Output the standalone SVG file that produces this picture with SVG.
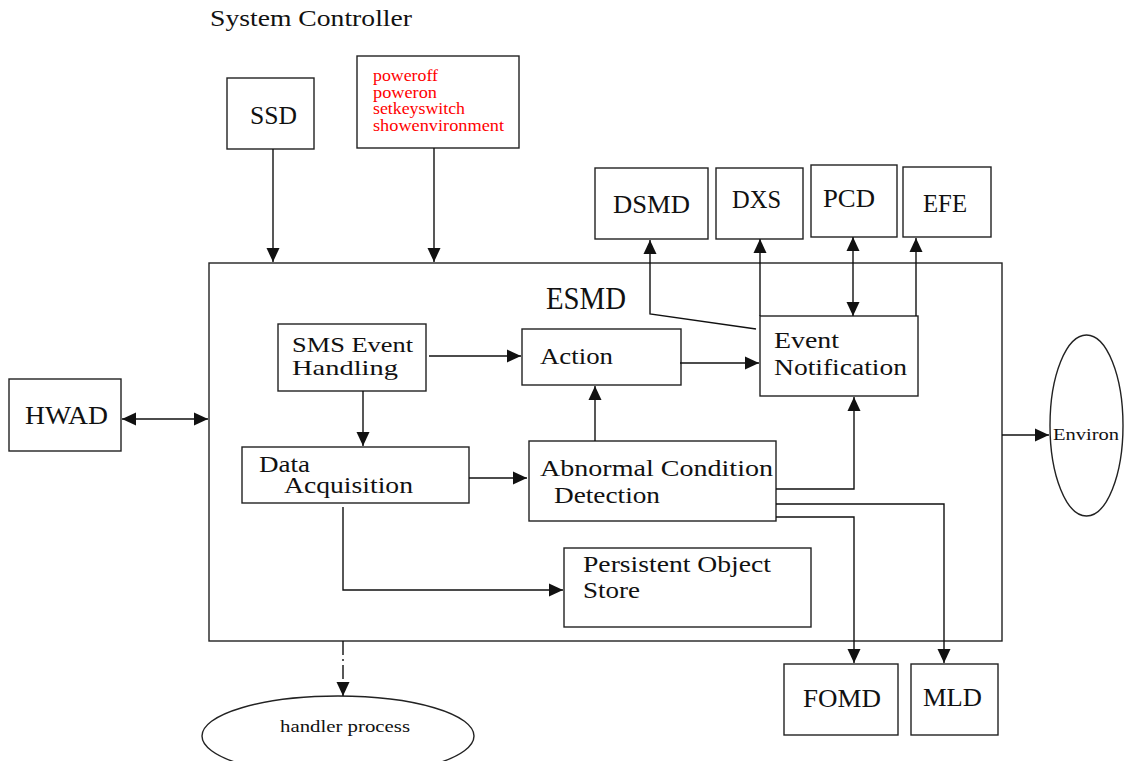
<svg xmlns="http://www.w3.org/2000/svg" width="1127" height="761" viewBox="0 0 1127 761">
<defs>
<marker id="arr" markerUnits="userSpaceOnUse" markerWidth="14" markerHeight="14" viewBox="0 0 14 14" refX="14" refY="7" orient="auto-start-reverse">
<path d="M0,0.5 L14,7 L0,13.5 z" fill="#111"/>
</marker>
<style>
.box{fill:#fff;stroke:#222;stroke-width:1.4}
.t{font-family:"Liberation Serif","Times New Roman",serif;fill:#111;font-size:24px}
.big{font-size:25px}
.red{fill:#ff0000;font-size:16px}
.sm{font-size:17px}
.c{fill:none;stroke:#111;stroke-width:1.4}
</style>
</defs>
<rect width="1127" height="761" fill="#fff"/>
<text class="t" x="210" y="26" style="font-size:23px" textLength="202" lengthAdjust="spacingAndGlyphs">System Controller</text>

<g id="ssd"><rect class="box" x="227" y="78" width="87" height="71"/><text class="t big" x="250" y="124" textLength="47" lengthAdjust="spacingAndGlyphs">SSD</text></g>
<g id="commands"><rect class="box" x="357" y="56" width="162" height="92"/>
<text class="t red" x="373" y="81" textLength="65" lengthAdjust="spacingAndGlyphs">poweroff</text>
<text class="t red" x="373" y="98" textLength="64" lengthAdjust="spacingAndGlyphs">poweron</text>
<text class="t red" x="373" y="114" textLength="92" lengthAdjust="spacingAndGlyphs">setkeyswitch</text>
<text class="t red" x="373" y="131" textLength="131" lengthAdjust="spacingAndGlyphs">showenvironment</text></g>

<g id="esmd"><rect class="box" x="209" y="263" width="793" height="378"/><text class="t" x="546" y="309" style="font-size:31px" textLength="80" lengthAdjust="spacingAndGlyphs">ESMD</text></g>

<g id="dsmd"><rect class="box" x="595" y="168" width="113" height="71"/><text class="t big" x="613" y="213" textLength="77" lengthAdjust="spacingAndGlyphs">DSMD</text></g>
<g id="dxs"><rect class="box" x="716" y="168" width="87" height="71"/><text class="t big" x="732" y="208" textLength="49" lengthAdjust="spacingAndGlyphs">DXS</text></g>
<g id="pcd"><rect class="box" x="811" y="165" width="86" height="72"/><text class="t big" x="823" y="207" textLength="52" lengthAdjust="spacingAndGlyphs">PCD</text></g>
<g id="efe"><rect class="box" x="903" y="167" width="88" height="70"/><text class="t big" x="923" y="212" textLength="44" lengthAdjust="spacingAndGlyphs">EFE</text></g>

<g id="event-notification"><rect class="box" x="760" y="316" width="158" height="80"/>
<text class="t" x="774" y="348" textLength="65" lengthAdjust="spacingAndGlyphs">Event</text>
<text class="t" x="774" y="375" textLength="133" lengthAdjust="spacingAndGlyphs">Notification</text></g>

<g id="sms-event-handling"><rect class="box" x="278" y="324" width="148" height="67"/>
<text class="t" x="292" y="352" style="font-size:22px" textLength="121" lengthAdjust="spacingAndGlyphs">SMS Event</text>
<text class="t" x="292" y="375" style="font-size:22px" textLength="106" lengthAdjust="spacingAndGlyphs">Handling</text></g>

<g id="action"><rect class="box" x="522" y="329" width="159" height="56"/>
<text class="t" x="540" y="364" textLength="73" lengthAdjust="spacingAndGlyphs">Action</text></g>

<g id="data-acquisition"><rect class="box" x="242" y="447" width="227" height="56"/>
<text class="t" x="259" y="472" textLength="51" lengthAdjust="spacingAndGlyphs">Data</text>
<text class="t" x="284" y="493" textLength="129" lengthAdjust="spacingAndGlyphs">Acquisition</text></g>

<g id="abnormal-condition-detection"><rect class="box" x="529" y="441" width="247" height="80"/>
<text class="t" x="540" y="476" textLength="233" lengthAdjust="spacingAndGlyphs">Abnormal Condition</text>
<text class="t" x="554" y="503" textLength="106" lengthAdjust="spacingAndGlyphs">Detection</text></g>

<g id="persistent-object-store"><rect class="box" x="564" y="548" width="247" height="79"/>
<text class="t" x="583" y="572" textLength="188" lengthAdjust="spacingAndGlyphs">Persistent Object</text>
<text class="t" x="583" y="598" textLength="57" lengthAdjust="spacingAndGlyphs">Store</text></g>

<g id="hwad"><rect class="box" x="9" y="379" width="112" height="72"/><text class="t big" x="25" y="424" textLength="83" lengthAdjust="spacingAndGlyphs">HWAD</text></g>

<g id="environ"><ellipse class="box" cx="1086.5" cy="425.5" rx="36.5" ry="90.5"/><text class="t sm" x="1053" y="440" textLength="66" lengthAdjust="spacingAndGlyphs">Environ</text></g>

<g id="fomd"><rect class="box" x="784" y="664" width="114" height="71"/><text class="t big" x="803" y="707" textLength="78" lengthAdjust="spacingAndGlyphs">FOMD</text></g>
<g id="mld"><rect class="box" x="911" y="664" width="87" height="71"/><text class="t big" x="923" y="706" textLength="59" lengthAdjust="spacingAndGlyphs">MLD</text></g>

<g id="handler-process"><ellipse class="box" cx="338" cy="736" rx="136" ry="40"/><text class="t sm" x="280" y="732" textLength="130" lengthAdjust="spacingAndGlyphs">handler process</text></g>

<g id="connectors">
<path class="c" d="M273,149 V262" marker-end="url(#arr)"/>
<path class="c" d="M434,148 V262" marker-end="url(#arr)"/>
<path class="c" d="M122,419 H208" marker-start="url(#arr)" marker-end="url(#arr)"/>
<path class="c" d="M756,329 L650,314 V240" marker-end="url(#arr)"/>
<path class="c" d="M760,316 V239" marker-end="url(#arr)"/>
<path class="c" d="M853,237 V316" marker-start="url(#arr)" marker-end="url(#arr)"/>
<path class="c" d="M916,316 V238" marker-end="url(#arr)"/>
<path class="c" d="M429,356 H521" marker-end="url(#arr)"/>
<path class="c" d="M680,363 H759" marker-end="url(#arr)"/>
<path class="c" d="M363,391 V446" marker-end="url(#arr)"/>
<path class="c" d="M469,478 H527" marker-end="url(#arr)"/>
<path class="c" d="M595,441 V386" marker-end="url(#arr)"/>
<path class="c" d="M776,489 H854 V397" marker-end="url(#arr)"/>
<path class="c" d="M776,504 H944 V663" marker-end="url(#arr)"/>
<path class="c" d="M776,517 H854 V663" marker-end="url(#arr)"/>
<path class="c" d="M343,507 V590 H563" marker-end="url(#arr)"/>
<path class="c" d="M1002,435 H1049" marker-end="url(#arr)"/>
<path class="c" d="M343,641 V696" stroke-dasharray="14,4,2,4" marker-end="url(#arr)"/>
</g>
</svg>
